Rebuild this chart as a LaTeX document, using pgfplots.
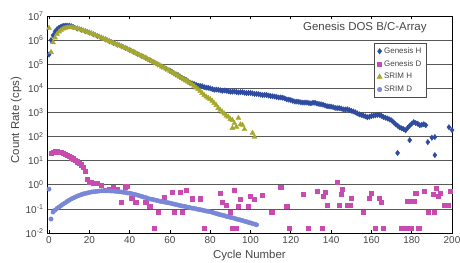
\documentclass[border=0pt]{standalone}
\usepackage{fontspec}
\setmainfont{Liberation Sans}
\usepackage{pgfplots}
\pgfplotsset{compat=1.18}
\definecolor{gh}{RGB}{45,75,160}
\definecolor{gd}{RGB}{200,75,175}
\definecolor{sh}{RGB}{165,168,45}
\definecolor{sd}{RGB}{120,135,215}
\definecolor{tk}{RGB}{70,70,70}
\begin{document}
\begin{tikzpicture}
\useasboundingbox (0,0) rectangle (460bp,263bp);
\begin{axis}[
  at={(47bp,30bp)}, anchor=south west,
  scale only axis, width=405bp, height=217bp,
  ymode=log, xmin=-1, xmax=200, ymin=1e-2, ymax=1e7,
  xtick={0,20,...,200},
  ytick={1e-2,1e-1,1,1e1,1e2,1e3,1e4,1e5,1e6,1e7},
  yticklabels={10\textsuperscript{-2},10\textsuperscript{-1},10\textsuperscript{0},10\textsuperscript{1},10\textsuperscript{2},10\textsuperscript{3},10\textsuperscript{4},10\textsuperscript{5},10\textsuperscript{6},10\textsuperscript{7}},
  yminorticks=false,
  /pgf/number format/assume math mode=true,
  tick align=inside, major tick length=3bp,
  ytick style={draw=none},
  xtick style={black, line width=0.8pt},
  ymajorgrids, grid style={black!65, line width=0.7pt},
  axis line style={black, line width=0.8pt},
  ticklabel style={font=\fontsize{10}{12}\selectfont, text=tk},
  xlabel={Cycle Number}, ylabel={Count Rate (cps)},
  label style={font=\fontsize{11.5}{13}\selectfont, text=tk},
  xlabel style={at={(axis description cs:0.5,0)}, anchor=north, yshift=-14bp},
  ylabel style={at={(axis description cs:0,0.52)}, anchor=south, yshift=22bp},
  legend style={at={(0.936,0.876)}, anchor=north east, draw=black!70, line width=0.5pt,
     font=\fontsize{8}{9.5}\selectfont, text=tk, row sep=1.6bp, inner sep=2.5bp},
  legend cell align=left,
]
\addplot[only marks, mark=diamond*, mark size=2.7pt, gh, mark options={draw=gh, fill=gh}] coordinates {
(0,2.51e5)(1,1.00e6)(2,1.58e6)(3,2.24e6)(4,2.82e6)(5,3.31e6)(6,3.63e6)(7,3.89e6)(8,3.98e6)(9,3.98e6)(10,3.98e6)(11,3.80e6)(12,3.55e6)
(14,3.02e6)(16,2.69e6)(18,2.34e6)(20,2.04e6)(22,1.74e6)(24,1.48e6)(26,1.26e6)(28,1.07e6)(30,8.91e5)(32,7.59e5)(34,6.46e5)(36,5.50e5)(38,4.68e5)(40,3.89e5)(42,3.24e5)(44,2.63e5)(46,2.19e5)(48,1.82e5)(50,1.48e5)(52,1.20e5)(54,9.77e4)(56,7.94e4)(58,6.61e4)
(60,5.50e4)(62,4.17e4)(64,3.55e4)(66,2.69e4)(68,2.24e4)(70,1.74e4)(72,1.51e4)(74,1.29e4)(76,1.23e4)(78,1.07e4)(80,1.00e4)(82,8.71e3)(84,8.71e3)(86,7.94e3)(88,7.94e3)(90,7.24e3)(92,7.41e3)(94,6.76e3)(96,6.92e3)(98,6.31e3)(100,6.46e3)(102,5.89e3)(104,5.75e3)(106,5.25e3)(108,5.25e3)(110,4.79e3)(112,4.57e3)(114,4.17e3)(116,4.07e3)(118,3.47e3)(120,3.24e3)(122,2.82e3)(124,2.75e3)(126,2.57e3)(128,2.57e3)(130,2.40e3)(132,2.51e3)(134,2.24e3)(136,2.09e3)(138,1.82e3)(140,1.74e3)(142,1.55e3)(144,1.51e3)(146,1.35e3)(148,1.35e3)(150,1.17e3)(152,1.02e3)(154,8.32e2)(156,7.41e2)(158,6.31e2)(160,7.08e2)(162,7.59e2)(164,7.94e2)(166,6.46e2)(168,5.62e2)(170,4.68e2)(172,3.24e2)(174,2.40e2)(176,2.04e2)(177,1.82e2)(179,2.82e2)(181,3.98e2)(183,3.39e2)(184,2.95e2)(186,3.24e2)(187,2.95e2)
(61,4.90e4)(63,3.80e4)(65,3.09e4)(67,2.45e4)(69,1.95e4)(71,1.62e4)(73,1.38e4)(75,1.26e4)(77,1.12e4)(79,1.05e4)(81,9.33e3)(83,8.91e3)(85,8.32e3)(87,8.13e3)(89,7.59e3)(91,7.24e3)(93,7.08e3)(95,6.92e3)(97,6.61e3)(99,6.46e3)(101,6.17e3)(103,5.89e3)(105,5.50e3)(107,5.37e3)(109,5.01e3)(111,4.68e3)(113,4.37e3)(115,4.17e3)(117,3.80e3)(119,3.39e3)(121,3.02e3)(123,2.82e3)(125,2.63e3)(127,2.57e3)(129,2.45e3)(131,2.51e3)(133,2.34e3)(135,2.19e3)(137,1.95e3)(139,1.78e3)(141,1.66e3)(143,1.51e3)(145,1.45e3)(147,1.32e3)(149,1.26e3)(151,1.10e3)(153,9.12e2)(155,7.94e2)(157,6.92e2)(159,6.61e2)(161,7.41e2)(163,7.94e2)(165,7.24e2)(167,6.03e2)(169,5.13e2)(171,3.89e2)(173,2.82e2)(175,2.19e2)(178,2.29e2)(180,3.39e2)(182,3.63e2)(185,3.09e2)
(173,2.09e1)(179,7.08e1)(188,5.89e1)(190,8.91e1)(191.5,9.55e1)(191.5,1.70e1)(198.5,2.45e2)(200,1.86e2)
};
\addlegendentry{Genesis H}
\addplot[only marks, mark=square*, mark size=2.1pt, gd, mark options={draw=gd, fill=gd}] coordinates {
(1,20.0)(2,22.9)(3,24.0)(4,23.4)(5,22.9)(6,22.4)(7,20.9)(8,19.1)(9,16.6)(10,14.8)(11,13.2)(12,12.0)(13,10.5)(14,9.12)(15,7.94)(16,6.76)(17,5.50)(18,3.55)(19,1.66)(20,1.32)(21,1.26)(22,1.12)(24,1.20)(26,0.955)(28,0.603)(30,0.661)(32,0.759)(34,0.631)(36,0.191)(38,0.832)(39,0.891)(41,0.282)(43,0.191)(48,0.191)(50,0.132)(52,0.0158)(54,0.0741)(57,0.316)(61,0.501)(62,0.0741)(65,0.501)(66,0.0741)(68,0.603)(71,0.263)(75,0.263)(77,0.0158)(85,0.457)(86,0.191)(88,0.145)(90,0.0741)(91,0.0158)(92,0.603)(93,0.0158)(94,0.132)(95,0.251)(99,0.132)(100,0.339)(102,0.251)(106,0.372)(110.5,0.0741)(115,0.794)(118,0.132)(119,0.0158)(126,0.417)(128.5,0.0158)(133,0.550)(135.5,0.0158)(136,0.339)(137,0.501)(138,0.145)(143,1.29)(144,0.145)(145.5,0.661)(145,0.417)(148,0.145)(149.5,0.145)(150,0.282)(156,0.0741)(159,0.282)(160,0.457)(162,0.0158)(164,0.282)(165,0.191)(166,0.0158)(175,0.0158)(178,0.0158)(179.5,0.0158)(183.5,0.0158)(178,0.209)(181,0.209)(182,0.457)(186,0.550)(188,0.0741)(191,0.0741)(190.5,0.417)(192,0.724)(194,0.457)(193,0.339)(196,0.145)(198,0.145)(199,0.550)
};
\addlegendentry{Genesis D}
\addplot[only marks, mark=triangle*, mark size=2.9pt, sh, mark options={draw=sh, fill=sh}] coordinates {
(0,3.16e6)(1,3.16e5)(2,7.94e5)(3,1.26e6)(4,1.78e6)(5,2.24e6)(6,2.63e6)(7,2.95e6)(8,3.16e6)(9,3.31e6)(10,3.39e6)(11,3.39e6)(12,3.31e6)(13,3.16e6)(14,3.02e6)(15,2.88e6)(16,2.69e6)(17,2.51e6)(18,2.34e6)(19,2.19e6)(20,2.04e6)(21,1.91e6)(22,1.74e6)(23,1.62e6)(24,1.48e6)(25,1.38e6)(26,1.26e6)(27,1.15e6)(28,1.07e6)(29,9.77e5)(30,8.91e5)(31,8.32e5)(32,7.59e5)(33,7.08e5)(34,6.46e5)(35,6.03e5)(36,5.50e5)(37,5.01e5)(38,4.68e5)(39,4.27e5)(40,3.89e5)(41,3.55e5)(42,3.24e5)(43,2.95e5)(44,2.63e5)(45,2.40e5)(46,2.19e5)(47,2.00e5)(48,1.82e5)(49,1.62e5)(50,1.48e5)(51,1.35e5)(52,1.20e5)(53,1.10e5)(54,9.77e4)(55,8.91e4)(56,7.94e4)(57,7.24e4)(58,6.46e4)(59,5.89e4)(60,5.25e4)(61,4.68e4)(62,4.17e4)(63,3.72e4)(64,3.31e4)(65,2.95e4)(66,2.63e4)(67,2.34e4)(68,2.09e4)(69,1.86e4)(70,1.66e4)(71,1.45e4)(72,1.26e4)(73,1.07e4)(74,9.12e3)(75,7.76e3)(76,6.31e3)(77,5.25e3)(78,4.47e3)(79,3.98e3)(80,3.55e3)(81,3.02e3)(82,2.40e3)(83,2.00e3)(84,1.51e3)(85,1.26e3)(86,1.05e3)(87,8.91e2)(88,7.24e2)(89,6.46e2)(90,5.25e2)(91,4.79e2)(91,2.24e2)(92,3.55e2)(93,2.51e2)(94,5.89e2)(95,3.16e2)(96,3.02e2)(97,2.00e2)(101,1.41e2)(102,9.55e1)
};
\addlegendentry{SRIM H}
\addplot[only marks, mark=*, mark size=2.2pt, sd, mark options={draw=sd, fill=sd}] coordinates {
(0,0.66)(1,0.038)(2,0.074)(3,0.089)(4,0.105)(5,0.12)(6,0.138)(7,0.158)(8,0.178)(9,0.204)(10,0.229)(11,0.257)(12,0.282)(13,0.309)(14,0.339)(15,0.363)(16,0.389)(17,0.417)(18,0.437)(19,0.457)(20,0.479)(21,0.501)(22,0.513)(23,0.525)(24,0.537)(25,0.550)(26,0.562)(27,0.562)(28,0.562)(29,0.562)(30,0.562)(31,0.550)(32,0.550)(33,0.537)(34,0.525)(35,0.513)(36,0.501)(37,0.490)(38,0.479)(39,0.457)(40,0.447)(41,0.427)(42,0.407)(43,0.389)(44,0.372)(45,0.347)(46,0.331)(47,0.309)(48,0.295)(49,0.275)(50,0.257)(51,0.251)(52,0.240)(53,0.229)(54,0.219)(55,0.209)(56,0.200)(57,0.195)(58,0.186)(59,0.182)(60,0.174)(61,0.166)(62,0.158)(63,0.151)(64,0.145)(65,0.138)(66,0.132)(67,0.129)(68,0.123)(69,0.117)(70,0.112)(71,0.107)(72,0.105)(73,0.100)(74,0.0955)(75,0.0933)(76,0.0891)(77,0.0851)(78,0.0813)(79,0.0794)(80,0.0759)(81,0.0724)(82,0.0676)(83,0.0646)(84,0.0603)(85,0.0575)(86,0.0550)(87,0.0525)(88,0.0490)(89,0.0468)(90,0.0447)(91,0.0427)(92,0.0407)(93,0.0380)(94,0.0363)(95,0.0347)(96,0.0331)(97,0.0309)(98,0.0295)(99,0.0275)(100,0.0263)(101,0.0245)(102,0.0234)(103,0.0219)
};
\addlegendentry{SRIM D}
\node[anchor=east, font=\fontsize{11.5}{13}\selectfont, text=tk] at (rel axis cs:0.946,0.945) {Genesis DOS B/C-Array};
\end{axis}
\end{tikzpicture}
\end{document}
